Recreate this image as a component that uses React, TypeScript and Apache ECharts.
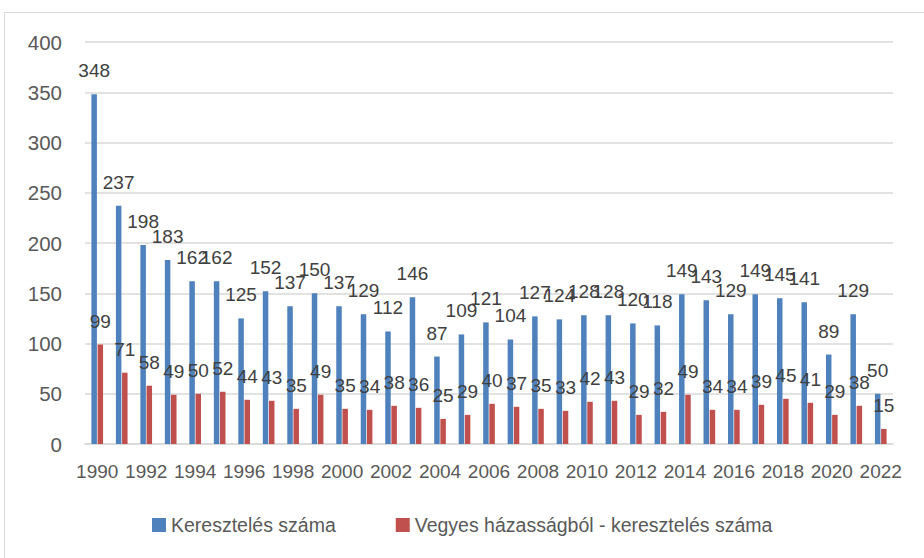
import React, { useEffect, useRef } from "react";
import * as echarts from "echarts";

const years = [
  "1990", "1991", "1992", "1993", "1994", "1995", "1996", "1997", "1998", "1999",
  "2000", "2001", "2002", "2003", "2004", "2005", "2006", "2007", "2008", "2009",
  "2010", "2011", "2012", "2013", "2014", "2015", "2016", "2017", "2018", "2019",
  "2020", "2021", "2022",
];

const keresztelesek = [
  348, 237, 198, 183, 162, 162, 125, 152, 137, 150,
  137, 129, 112, 146, 87, 109, 121, 104, 127, 124,
  128, 128, 120, 118, 149, 143, 129, 149, 145, 141,
  89, 129, 50,
];

const vegyesKeresztelesek = [
  99, 71, 58, 49, 50, 52, 44, 43, 35, 49,
  35, 34, 38, 36, 25, 29, 40, 37, 35, 33,
  42, 43, 29, 32, 49, 34, 34, 39, 45, 41,
  29, 38, 15,
];

const seriesNames = ["Keresztelés száma", "Vegyes házasságból - keresztelés száma"];

const FONT = "'Liberation Sans', Arial, sans-serif";

export default function App() {
  const ref = useRef<HTMLDivElement>(null);

  useEffect(() => {
    if (!ref.current) return;
    document.body.style.margin = "0";
    const chart = echarts.init(ref.current, undefined, { renderer: "svg" });
    const labelStyle = {
      show: true,
      position: "top",
      distance: 14,
      fontSize: 19,
      color: "#404040",
      fontFamily: FONT,
    };
    chart.setOption({
      animation: false,
      backgroundColor: "#ffffff",
      textStyle: { fontFamily: FONT },
      graphic: [
        {
          type: "rect",
          shape: { x: 4.5, y: 12.5, width: 940, height: 560 },
          style: { fill: "none", stroke: "#d9d9d9", lineWidth: 1 },
          silent: true,
        },
      ],
      grid: { left: 85, right: 31, top: 42, bottom: 114, containLabel: false },
      legend: {
        left: 147,
        top: 510,
        itemWidth: 14,
        itemHeight: 14,
        itemGap: 60,
        icon: "rect",
        textStyle: { fontSize: 19.5, color: "#595959", fontFamily: FONT },
        data: seriesNames,
      },
      xAxis: {
        type: "category",
        data: years,
        axisLine: { lineStyle: { color: "#d9d9d9", width: 1.5 } },
        axisTick: { show: false },
        axisLabel: {
          interval: 1,
          fontSize: 19,
          color: "#595959",
          margin: 18,
          fontFamily: FONT,
        },
      },
      yAxis: {
        type: "value",
        min: 0,
        max: 400,
        interval: 50,
        axisLine: { show: false },
        axisTick: { show: false },
        splitLine: { lineStyle: { color: "#d9d9d9", width: 1.5 } },
        axisLabel: { fontSize: 20.5, color: "#595959", margin: 23, fontFamily: FONT },
      },
      series: [
        {
          name: seriesNames[0],
          type: "bar",
          data: keresztelesek,
          barWidth: 5.5,
          barGap: "12%",
          itemStyle: { color: "#4f81bd" },
          label: labelStyle,
        },
        {
          name: seriesNames[1],
          type: "bar",
          data: vegyesKeresztelesek,
          barWidth: 5.5,
          barGap: "12%",
          itemStyle: { color: "#c0504d" },
          label: labelStyle,
        },
      ],
    });
    return () => chart.dispose();
  }, []);

  return <div ref={ref} style={{ width: 924, height: 558 }} />;
}
